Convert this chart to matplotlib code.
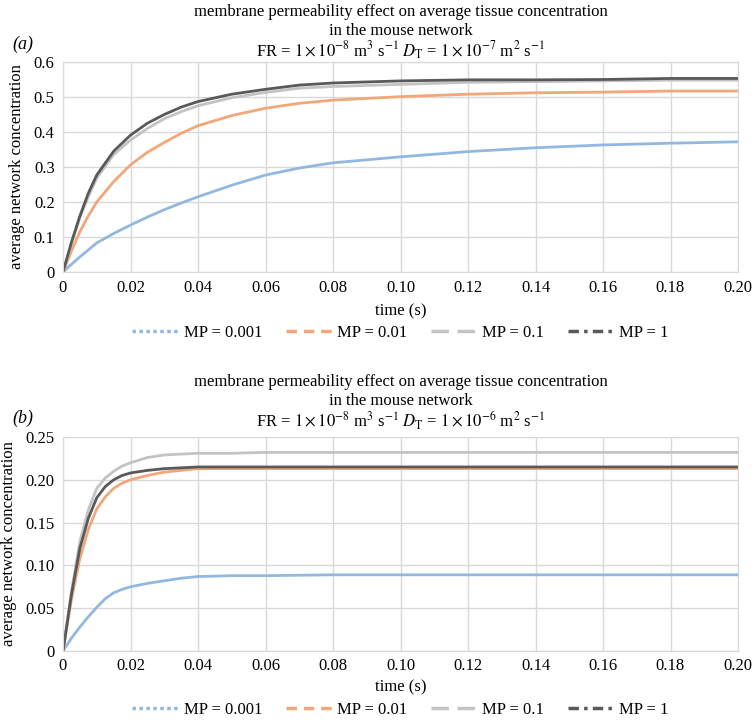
import matplotlib
matplotlib.use('Agg')
import matplotlib.pyplot as plt
from matplotlib.lines import Line2D

plt.rcParams['font.family'] = ['Liberation Serif', 'DejaVu Serif']
plt.rcParams['mathtext.fontset'] = 'stix'

# values
labels = ["MP = 0.001", "MP = 0.01", "MP = 0.1", "MP = 1"]

t_a = [0, 0.0025, 0.005, 0.0075, 0.01, 0.015, 0.02, 0.025, 0.03, 0.035, 0.04,
       0.05, 0.06, 0.07, 0.08, 0.10, 0.12, 0.14, 0.16, 0.18, 0.20]
a_mp0001 = [0, 0.022, 0.043, 0.063, 0.083, 0.110, 0.134, 0.157, 0.178, 0.197,
            0.215, 0.248, 0.277, 0.297, 0.312, 0.329, 0.344, 0.355, 0.363,
            0.368, 0.372]
a_mp001 = [0, 0.060, 0.115, 0.160, 0.200, 0.258, 0.306, 0.342, 0.370, 0.396,
           0.418, 0.447, 0.468, 0.482, 0.491, 0.501, 0.508, 0.512, 0.514,
           0.517, 0.517]
a_mp01 = [0, 0.080, 0.155, 0.215, 0.268, 0.335, 0.377, 0.410, 0.438, 0.458,
          0.475, 0.498, 0.513, 0.525, 0.530, 0.536, 0.542, 0.544, 0.546,
          0.548, 0.548]
a_mp1 = [0, 0.085, 0.160, 0.225, 0.277, 0.345, 0.391, 0.425, 0.450, 0.471,
         0.487, 0.508, 0.522, 0.534, 0.540, 0.546, 0.549, 0.549, 0.550,
         0.553, 0.553]

t_b = [0, 0.0025, 0.005, 0.0075, 0.01, 0.0125, 0.015, 0.0175, 0.02, 0.025,
       0.03, 0.035, 0.04, 0.05, 0.06, 0.08, 0.10, 0.15, 0.20]
b_mp0001 = [0, 0.015, 0.028, 0.040, 0.051, 0.061, 0.068, 0.072, 0.075, 0.079,
            0.082, 0.085, 0.087, 0.088, 0.088, 0.089, 0.089, 0.089, 0.089]
b_mp001 = [0, 0.060, 0.108, 0.142, 0.166, 0.180, 0.190, 0.196, 0.200, 0.205,
           0.209, 0.211, 0.213, 0.213, 0.213, 0.213, 0.213, 0.213, 0.213]
b_mp01 = [0, 0.070, 0.128, 0.165, 0.190, 0.202, 0.210, 0.216, 0.220, 0.226,
          0.229, 0.230, 0.231, 0.231, 0.232, 0.232, 0.232, 0.232, 0.232]
b_mp1 = [0, 0.066, 0.120, 0.155, 0.179, 0.192, 0.200, 0.205, 0.208, 0.211,
         0.213, 0.214, 0.215, 0.215, 0.215, 0.215, 0.215, 0.215, 0.215]

x_ticks = [0, 0.02, 0.04, 0.06, 0.08, 0.10, 0.12, 0.14, 0.16, 0.18, 0.20]
x_ticklabels = ["0", "0.02", "0.04", "0.06", "0.08", "0.10", "0.12", "0.14",
                "0.16", "0.18", "0.20"]
ya_ticks = [0, 0.1, 0.2, 0.3, 0.4, 0.5, 0.6]
ya_ticklabels = ["0", "0.1", "0.2", "0.3", "0.4", "0.5", "0.6"]
yb_ticks = [0, 0.05, 0.10, 0.15, 0.20, 0.25]
yb_ticklabels = ["0", "0.05", "0.10", "0.15", "0.20", "0.25"]

colors = ['#93b8e0', '#f2a77a', '#c3c3c3', '#595959']
styles = [(0, (1, 1)), (0, (3, 2)), (0, (5, 2.5)), (0, (3, 1.5, 1, 1.5))]
grid_c = '#d9d9d9'
fs = 12

fig = plt.figure(figsize=(7.53, 7.2), dpi=100)
ax_a = fig.add_axes([63/753, 1 - 272/720, 675/753, 210/720])
ax_b = fig.add_axes([63/753, 1 - 651/720, 675/753, 214/720])


def style_axis(ax, yticks, yticklabels, ymax, tpad, lpad):
    ax.set_xlim(0, 0.2)
    ax.set_ylim(0, ymax)
    ax.set_xticks(x_ticks)
    ax.set_xticklabels(x_ticklabels, fontsize=fs)
    ax.set_yticks(yticks)
    ax.set_yticklabels(yticklabels, fontsize=fs)
    ax.tick_params(axis='x', length=0, pad=tpad)
    ax.tick_params(axis='y', length=0, pad=6)
    ax.grid(True, color=grid_c, linewidth=1)
    ax.set_axisbelow(True)
    for s in ax.spines.values():
        s.set_color(grid_c)
    ax.set_xlabel("time (s)", fontsize=fs, labelpad=lpad)
    ax.set_ylabel("average network concentration", fontsize=fs, labelpad=6)


series_a = [a_mp0001, a_mp001, a_mp01, a_mp1]
series_b = [b_mp0001, b_mp001, b_mp01, b_mp1]
for ys, c in zip(series_a, colors):
    ax_a.plot(t_a, ys, color=c, linewidth=2, solid_capstyle='butt')
for ys, c in zip(series_b, colors):
    ax_b.plot(t_b, ys, color=c, linewidth=2, solid_capstyle='butt')

style_axis(ax_a, ya_ticks, ya_ticklabels, 0.6, 6, 5)
style_axis(ax_b, yb_ticks, yb_ticklabels, 0.25, 5, 4)

handles = [Line2D([], [], color=c, linestyle=ls, linewidth=2.5)
           for c, ls in zip(colors, styles)]

cx = (63 + 738) / 2 / 753
for ypx, dt in [(0, "-7"), (370, "-6")]:
    fig.text(cx, 1 - (ypx + 12) / 720, "membrane permeability effect on average tissue concentration",
             ha='center', va='center', fontsize=fs)
    fig.text(cx, 1 - (ypx + 31) / 720, "in the mouse network",
             ha='center', va='center', fontsize=fs)
    fig.text(cx, 1 - (ypx + 51) / 720,
             r"FR = $1 \times 10^{-8}$ m$^{3}$ s$^{-1}$ $D_{\mathrm{T}}$ = $1 \times 10^{" + dt + r"}$ m$^{2}$ s$^{-1}$",
             ha='center', va='center', fontsize=fs)

fig.text(12/753, 1 - 44/720, "(a)", style='italic', fontsize=fs + 1, va='center')
fig.text(12/753, 1 - 418/720, "(b)", style='italic', fontsize=fs + 1, va='center')

for ypx in [333, 710]:
    fig.legend(handles, labels, loc='center', bbox_to_anchor=(cx, 1 - ypx/720),
               ncol=4, frameon=False, fontsize=fs, handlelength=2.75,
               columnspacing=1.4, handletextpad=0.35, borderpad=0.1)

fig.savefig("out.png", dpi=100)
